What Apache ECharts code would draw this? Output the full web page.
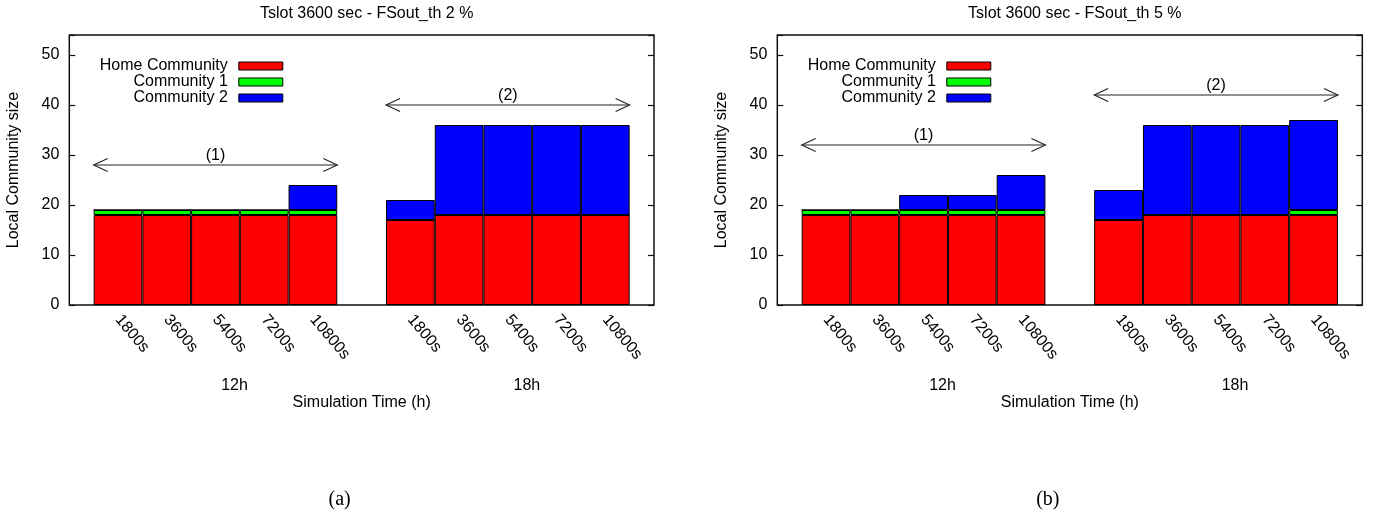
<!DOCTYPE html>
<html>
<head>
<meta charset="utf-8">
<script src="https://cdn.jsdelivr.net/npm/echarts@6/dist/echarts.min.js"></script>
<style>
  html, body { margin: 0; padding: 0; background: #fff; }
  #chart { width: 1373px; height: 514px; }
</style>
</head>
<body>
<div id="chart"></div>
<script>
// Run lengths within each simulation time group
const tickLabels = ['1800s', '3600s', '5400s', '7200s', '10800s'];
const groupLabels = ['12h', '18h'];
const seriesNames = ['Home Community', 'Community 1', 'Community 2'];
const panelTitles = ['Tslot 3600 sec - FSout_th 2 %', 'Tslot 3600 sec - FSout_th 5 %'];
const panelCaptions = ['(a)', '(b)'];

// Local community size, panel (a): 12h group then 18h group
const homeA  = [18, 18, 18, 18, 18, 17, 18, 18, 18, 18];
const comm1A = [1, 1, 1, 1, 1, 0, 0, 0, 0, 0];
const comm2A = [0, 0, 0, 0, 5, 4, 18, 18, 18, 18];

// Local community size, panel (b)
const homeB  = [18, 18, 18, 18, 18, 17, 18, 18, 18, 18];
const comm1B = [1, 1, 1, 1, 1, 0, 0, 0, 0, 1];
const comm2B = [0, 0, 3, 3, 7, 6, 18, 18, 18, 18];

// Height of the double arrows spanning each group, per panel
const arrowLevelsA = [28, 40];
const arrowLevelsB = [32, 42];
const arrowLabels = ['(1)', '(2)'];

const FONT = "'Liberation Sans', Arial, Helvetica, sans-serif";
const COLORS = ['#ff0000', '#00ff00', '#0000ff'];
const PER_GROUP = tickLabels.length;         // bars in a group
const STRIDE = PER_GROUP + 1;                // one empty slot between groups
const X_MIN = -1, X_MAX = groupLabels.length * STRIDE - 1;

// x position on the value axis of bar i (0..9)
function slotOf(i) {
  const g = Math.floor(i / PER_GROUP);
  return g * STRIDE + (i % PER_GROUP);
}
function tickText(v) {
  if (v < 0) return '';
  const g = Math.floor(v / STRIDE), k = v % STRIDE;
  return (g < groupLabels.length && k < PER_GROUP) ? tickLabels[k] : '';
}
function groupText(v) {
  const g = Math.floor(v / STRIDE), k = v % STRIDE;
  return (g < groupLabels.length && k === Math.floor(PER_GROUP / 2)) ? groupLabels[g] : '';
}

const panels = [
  { left: 69.3, width: 584.7, values: [homeA, comm1A, comm2A], arrows: arrowLevelsA },
  { left: 777.3, width: 585, values: [homeB, comm1B, comm2B], arrows: arrowLevelsB }
];
const TOP = 35, HEIGHT = 270;

const grids = [], xAxes = [], yAxes = [], series = [], titles = [], legends = [];

panels.forEach((p, pi) => {
  grids.push({ left: p.left, top: TOP, width: p.width, height: HEIGHT, show: true,
    borderColor: '#111', borderWidth: 1.5, backgroundColor: 'transparent' });

  const xBase = { type: 'value', gridIndex: pi, min: X_MIN, max: X_MAX, interval: 1,
    axisLine: { show: false, onZero: false }, axisTick: { show: false }, splitLine: { show: false } };
  // bar tick labels
  xAxes.push(Object.assign({}, xBase, {
    position: 'bottom',
    axisLabel: { formatter: tickText, rotate: -50, margin: 12, color: '#000',
      fontFamily: FONT, fontSize: 16 },
    name: 'Simulation Time (h)', nameLocation: 'middle', nameGap: 90,
    nameTextStyle: { fontFamily: FONT, fontSize: 16, color: '#000' }
  }));
  // group labels beneath the tick labels
  xAxes.push(Object.assign({}, xBase, {
    position: 'bottom',
    axisLabel: { formatter: groupText, margin: 73, color: '#000', fontFamily: FONT,
      fontSize: 16, padding: [0, 0, 0, 38] }
  }));

  const yBase = { type: 'value', gridIndex: pi, min: 0, max: 54, interval: 10,
    axisLine: { show: false, onZero: false }, splitLine: { show: false },
    axisTick: { show: true, inside: true, length: 6, lineStyle: { color: '#111', width: 1.2 } } };
  yAxes.push(Object.assign({}, yBase, {
    position: 'left',
    axisLabel: { formatter: v => (v % 10 === 0 ? String(v) : ''), margin: 10, color: '#000',
      fontFamily: FONT, fontSize: 16 },
    name: 'Local Community size', nameLocation: 'middle', nameGap: 48,
    nameTextStyle: { fontFamily: FONT, fontSize: 16, color: '#000' }
  }));
  yAxes.push(Object.assign({}, yBase, { position: 'right', axisLabel: { show: false } }));

  // stacked bars: value in the first column so that stacking runs on y
  seriesNames.forEach((name, si) => {
    series.push({
      type: 'bar', name, stack: 'panel' + pi,
      xAxisIndex: pi * 2, yAxisIndex: pi * 2,
      encode: { x: 1, y: 0 },
      barWidth: '100%',
      itemStyle: { color: COLORS[si], borderColor: '#000', borderWidth: 1 },
      emphasis: { disabled: true },
      data: p.values[si].map((v, i) => [v, slotOf(i)])
    });
  });

  // double-headed arrows spanning each group
  series.push({
    type: 'custom', xAxisIndex: pi * 2, yAxisIndex: pi * 2, z: 5, silent: true,
    data: p.arrows.map((lvl, g) => [g * STRIDE - 0.5, g * STRIDE + PER_GROUP - 0.5, lvl]),
    renderItem(params, api) {
      const y = api.value(2);
      const a = api.coord([api.value(0), y]);
      const b = api.coord([api.value(1), y]);
      const hl = 14, hw = 6.5;
      const stroke = { stroke: '#222', lineWidth: 1.1, fill: null };
      return { type: 'group', children: [
        { type: 'line', shape: { x1: a[0], y1: a[1], x2: b[0], y2: b[1] }, style: stroke },
        { type: 'polyline', shape: { points: [[a[0] + hl, a[1] - hw], a, [a[0] + hl, a[1] + hw]] }, style: stroke },
        { type: 'polyline', shape: { points: [[b[0] - hl, b[1] - hw], b, [b[0] - hl, b[1] + hw]] }, style: stroke },
        { type: 'text', x: (a[0] + b[0]) / 2, y: a[1] - 9,
          style: { text: arrowLabels[params.dataIndex], align: 'center', verticalAlign: 'middle',
            font: '16px ' + FONT, fill: '#000' } }
      ] };
    }
  });

  const cx = p.left + p.width / 2;
  titles.push({ text: panelTitles[pi], left: cx, top: 1, textAlign: 'center',
    textStyle: { fontFamily: FONT, fontSize: 16, fontWeight: 'normal', color: '#000' } });
  titles.push({ text: panelCaptions[pi], left: cx - 27, top: 485, textAlign: 'center',
    textStyle: { fontFamily: "'Liberation Serif', 'Times New Roman', serif", fontSize: 20,
      fontWeight: 'normal', color: '#000' } });

  // one legend per entry so that the swatches line up on their right edge
  const rowTops = [53, 69, 85];
  seriesNames.forEach((name, si) => {
    legends.push({
      data: [name], orient: 'horizontal', align: 'right', icon: 'rect',
      right: 1373 - (p.left + 219), top: rowTops[si], padding: 5,
      itemWidth: 44, itemHeight: 8, selectedMode: false,
      itemStyle: { borderColor: '#000', borderWidth: 1 },
      textStyle: { fontFamily: FONT, fontSize: 16, color: '#000', lineHeight: 16, padding: [0, 6, 0, 0] }
    });
  });
});

const chart = echarts.init(document.getElementById('chart'), null, { renderer: 'canvas' });
chart.setOption({
  animation: false,
  backgroundColor: '#fff',
  title: titles,
  legend: legends,
  grid: grids,
  xAxis: xAxes,
  yAxis: yAxes,
  series
});
</script>
</body>
</html>
